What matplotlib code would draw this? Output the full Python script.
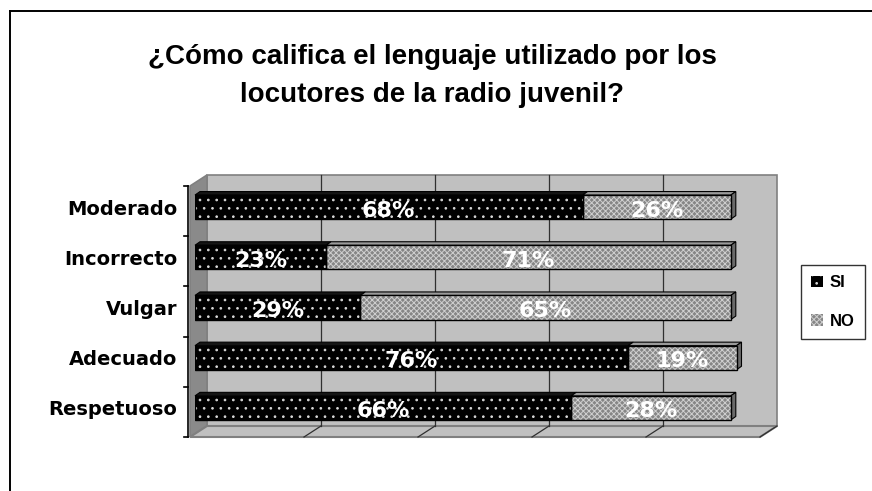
import matplotlib
matplotlib.use("Agg")
import matplotlib.pyplot as plt
from matplotlib.patches import Polygon, Patch
from matplotlib.lines import Line2D
import numpy as np

categories = ["Respetuoso", "Adecuado", "Vulgar", "Incorrecto", "Moderado"]
si_values = [66, 76, 29, 23, 68]
no_values = [28, 19, 65, 71, 26]
series_names = ["SI", "NO"]
title_text = "¿Cómo califica el lenguaje utilizado por los\nlocutores de la radio juvenil?"
x_ticks = [0, 20, 40, 60, 80, 100]

W, H = 872, 491
fig = plt.figure(figsize=(W / 100, H / 100), dpi=100)
fig.patch.set_facecolor("white")

# axes = front face plane of the bars (pixel geometry)
L, R, T, B = 195, 765, 182, 433
ax = fig.add_axes([L / W, 1 - B / H, (R - L) / W, (B - T) / H])
ax.set_xlim(0, 100)
ax.set_ylim(-0.5, 4.5)
ax.axis("off")

sx = 100 / (R - L)      # data units per pixel (x)
sy = 5 / (B - T)        # data units per pixel (y)

def off(x, y, dx, dy):
    return (x + dx * sx, y + dy * sy)

front = (-5, -4)
back = (12, 7)
x0, x1, y0, y1 = 0, 100, -0.5, 4.5

wall_col = "#C0C0C0"
edge_col = "#808080"

# back wall
ax.add_patch(Polygon([off(x0, y0, *back), off(x1, y0, *back), off(x1, y1, *back), off(x0, y1, *back)],
                     closed=True, facecolor=wall_col, edgecolor=edge_col, lw=1.2, clip_on=False, zorder=1))
# left wall
ax.add_patch(Polygon([off(x0, y0, *front), off(x0, y1, *front), off(x0, y1, *back), off(x0, y0, *back)],
                     closed=True, facecolor="#8a8a8a", edgecolor=edge_col, lw=1.2, clip_on=False, zorder=1))
# floor
ax.add_patch(Polygon([off(x0, y0, *front), off(x1, y0, *front), off(x1, y0, *back), off(x0, y0, *back)],
                     closed=True, facecolor=wall_col, edgecolor=edge_col, lw=1.5, clip_on=False, zorder=1))

# gridlines on back wall and floor
for xt in x_ticks[1:-1]:
    p0 = off(xt, y0, *back)
    p1 = off(xt, y1, *back)
    ax.add_line(Line2D([p0[0], p1[0]], [p0[1], p1[1]], color="#303030", lw=0.9, zorder=2, clip_on=False))
for xt in x_ticks[1:]:
    p0 = off(xt, y0, *front)
    p1 = off(xt, y0, *back)
    ax.add_line(Line2D([p0[0], p1[0]], [p0[1], p1[1]], color="#303030", lw=0.9, zorder=2, clip_on=False))

# y axis line with ticks
pa = off(x0, y0, *front)
pb = off(x0, y1, *front)
ax.add_line(Line2D([pa[0] - 2 * sx, pb[0] - 2 * sx], [pa[1], pb[1]], color="black", lw=1.2, zorder=3, clip_on=False))
for k in range(6):
    q = off(x0, -0.5 + k, *front)
    ax.add_line(Line2D([q[0] - 6 * sx, q[0] - 2 * sx], [q[1], q[1]], color="black", lw=1.2, zorder=3, clip_on=False))

# bars
h = 0.48
ypos = np.arange(len(categories))
ddx, ddy = 5, 3.5
plt.rcParams["hatch.linewidth"] = 0.7

si_face = "#000000"
no_face = "#868686"
no_hatch = "#cfcfcf"

ax.barh(ypos, si_values, height=h, color=si_face, edgecolor="#d8d8d8", hatch="..", lw=0, zorder=5)
ax.barh(ypos, no_values, left=si_values, height=h, color=no_face, edgecolor=no_hatch, hatch="xxxxxx",
        lw=0, zorder=5)
ax.barh(ypos, si_values, height=h, fill=False, edgecolor="black", lw=1.0, zorder=6)
ax.barh(ypos, no_values, left=si_values, height=h, fill=False, edgecolor="black", lw=1.0, zorder=6)

for yi, s, n in zip(ypos, si_values, no_values):
    top = yi + h / 2
    bot = yi - h / 2
    for (l, r, fc) in [(0, s, "#151515"), (s, s + n, "#9a9a9a")]:
        ax.add_patch(Polygon([(l, top), (r, top), off(r, top, ddx, ddy), off(l, top, ddx, ddy)],
                             closed=True, facecolor=fc, edgecolor="black", lw=0.8, zorder=4, clip_on=False))
    e = s + n
    ax.add_patch(Polygon([(e, bot), (e, top), off(e, top, ddx, ddy), off(e, bot, ddx, ddy)],
                         closed=True, facecolor="#6a6a6a", edgecolor="black", lw=0.8, zorder=4, clip_on=False))
    ax.text(s / 2, yi - 0.07, f"{s}%", color="white", fontsize=16, fontweight="bold",
            family="DejaVu Sans", ha="center", va="center", zorder=8)
    ax.text(s + n / 2, yi - 0.07, f"{n}%", color="white", fontsize=16, fontweight="bold",
            family="DejaVu Sans", ha="center", va="center", zorder=8)
    ax.text(-18 * sx, yi - 0.04, categories[yi], color="black", fontsize=14, fontweight="bold",
            family="DejaVu Sans", ha="right", va="center", zorder=8)

# title
fig.text(432 / W, 1 - 76 / H, title_text, ha="center", va="center", fontsize=20, fontweight="bold",
         family="Liberation Sans", linespacing=1.55)

# legend
handles = [Patch(facecolor="black", edgecolor="#d8d8d8", hatch="..", lw=0),
           Patch(facecolor=no_face, edgecolor=no_hatch, hatch="xxxxxx", lw=0)]
leg = fig.legend(handles, series_names, loc="center", bbox_to_anchor=(833 / W, 1 - 302 / H),
                 frameon=True, fancybox=False, edgecolor="black", handlelength=0.7, handleheight=0.7,
                 handletextpad=0.4, labelspacing=1.4, borderpad=0.6,
                 prop={"family": "Liberation Sans", "weight": "bold", "size": 12})
leg.get_frame().set_linewidth(1.0)

# outer border (left and top)
fig.add_artist(Line2D([9.5 / W, 9.5 / W], [0, 1 - 10.5 / H], transform=fig.transFigure, color="black", lw=1.4))
fig.add_artist(Line2D([9.5 / W, 1], [1 - 10.5 / H, 1 - 10.5 / H], transform=fig.transFigure, color="black", lw=1.4))

fig.savefig("out.png", dpi=100, facecolor="white")
